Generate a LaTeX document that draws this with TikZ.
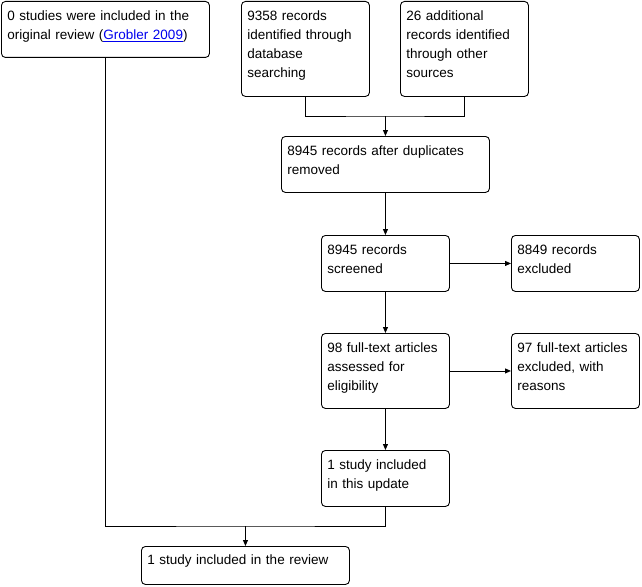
\documentclass[tikz,border=0pt]{standalone}
\usepackage{fontspec}
\setmainfont{Liberation Sans}
\usetikzlibrary{arrows.meta}
\definecolor{linkblue}{RGB}{0,0,238}

\begin{document}
\begin{tikzpicture}[
    x=1pt, y=-1pt,
    every node/.style={font=\fontsize{13.5}{19}\selectfont},
    >={Triangle[length=6pt,width=5pt]},
    box/.style={draw, line width=0.9pt, rounded corners=4pt, anchor=north west,
        align=left, inner xsep=6pt, inner ysep=0pt, text height=19pt},
    link/.style={line width=0.9pt},
]
\useasboundingbox (0,0) rectangle (642,586);

% === Identification ===
\node[box, text width=196pt, text depth=37pt] (orig) at (1,1)
    {0 studies were included in the\\original review (\textcolor{linkblue}{\underline{Grobler 2009}})};
\node[box, text width=116pt, text depth=76pt] (dbase) at (241,1)
    {9358 records\\identified through\\database\\searching};
\node[box, text width=116pt, text depth=76pt] (other) at (400,1)
    {26 additional\\records identified\\through other\\sources};

% === Screening ===
\node[box, text width=196pt, text depth=37pt] (dupl) at (281,136)
    {8945 records after duplicates\\removed};
\node[box, text width=116pt, text depth=37pt] (screen) at (321,235)
    {8945 records\\screened};
\node[box, text width=116pt, text depth=37pt] (excl) at (511,235)
    {8849 records\\excluded};

% === Eligibility ===
\node[box, text width=116pt, text depth=56pt] (full) at (321,333)
    {98 full-text articles\\assessed for\\eligibility};
\node[box, text width=116pt, text depth=56pt] (fullex) at (511,333)
    {97 full-text articles\\excluded, with\\reasons};

% === Included ===
\node[box, text width=116pt, text depth=37pt] (update) at (321,450)
    {1 study included\\in this update};
\node[box, text width=196pt, text height=18pt, text depth=20pt] (review) at (141,546)
    {1 study included in the review};

% === Connectors ===
\path (dupl.north) ++(0,-20) coordinate (merge);
\path (review.north) ++(0,-20) coordinate (join);
\draw[link] (dbase.south) |- (merge) -| (other.south);
\draw[link, ->] (merge) -- (dupl.north);
\draw[link, ->] (dupl) -- (screen);
\draw[link, ->] (screen) -- (excl);
\draw[link, ->] (screen) -- (full);
\draw[link, ->] (full) -- (fullex);
\draw[link, ->] (full) -- (update);
\draw[link] (orig.south) |- (join) -| (update.south);
\draw[link, ->] (join) -- (review.north);

\end{tikzpicture}
\end{document}
